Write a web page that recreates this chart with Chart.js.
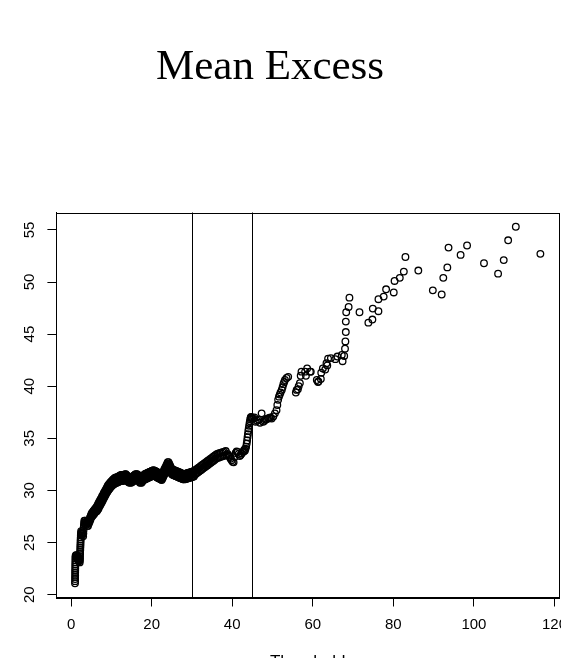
<!DOCTYPE html>
<html>
<head>
<meta charset="utf-8">
<script src="https://cdn.jsdelivr.net/npm/chart.js@4/dist/chart.umd.min.js"></script>
<style>
  html, body { margin: 0; padding: 0; background: #fff; overflow: hidden; }
  #wrap { position: absolute; left: 0; top: 0; width: 600px; height: 690px; }
</style>
</head>
<body>
<div id="wrap"><canvas id="me" width="600" height="690"></canvas></div>
<script>
// Mean excess e(u) against threshold u
const thresholds = [
  0.98, 1.0, 1.0, 1.01, 1.02, 1.02, 1.03, 1.04, 1.05, 1.06, 1.07, 1.08, 1.09, 1.1,
  1.2, 1.3, 1.4, 1.5, 1.6, 1.7, 1.8, 1.9, 2.0, 2.05, 2.1,
  2.15, 2.18, 2.2, 2.22, 2.24, 2.26, 2.28, 2.3, 2.32, 2.34, 2.36, 2.38, 2.4, 2.42, 2.45,
  2.5, 2.6, 2.7, 2.8, 2.9, 3.0,
  3.05, 3.1, 3.15, 3.2, 3.25, 3.3,
  3.4, 3.5, 3.6, 3.7, 3.8, 3.9, 4.0, 4.1, 4.2,
  4.3, 4.4, 4.5, 4.6, 4.7, 4.8, 4.9, 5.0,
  5.1, 5.2, 5.3, 5.4, 5.5, 5.6, 5.7, 5.8, 5.9, 6.0, 6.1, 6.2, 6.3,
  6.4, 6.5, 6.6, 6.7, 6.8, 6.9, 7.0, 7.1, 7.2, 7.3, 7.4, 7.5, 7.6, 7.7, 7.8, 7.9, 8.0,
  8.1, 8.2, 8.3, 8.4, 8.5, 8.6, 8.7, 8.8, 8.9, 9.0, 9.1, 9.2, 9.3, 9.4, 9.5, 9.6, 9.7,
  9.8, 9.9, 10.0, 10.1, 10.2, 10.3, 10.4, 10.5, 10.6, 10.7, 10.8, 10.9, 11.0, 11.1, 11.2, 11.3, 11.4, 11.5,
  11.6, 11.7, 11.8, 11.9, 12.0, 12.1, 12.2, 12.3, 12.4, 12.5, 12.6, 12.7, 12.8, 12.9, 13.0,
  13.1, 13.2, 13.3, 13.4, 13.5, 13.6, 13.7, 13.8, 13.9, 14.0,
  14.1, 14.2, 14.3, 14.4, 14.5, 14.6, 14.7, 14.8, 14.9, 15.0,
  15.1, 15.2, 15.3, 15.4, 15.5, 15.6, 15.7, 15.8, 15.9, 16.0,
  16.1, 16.2, 16.3, 16.4, 16.5, 16.6, 16.7, 16.8, 16.9, 17.0,
  17.1, 17.2, 17.3, 17.4, 17.5, 17.6, 17.7, 17.8, 17.9, 18.0,
  18.1, 18.2, 18.3, 18.4, 18.5, 18.6, 18.7, 18.8, 18.9, 19.0,
  19.1, 19.2, 19.3, 19.4, 19.5, 19.6, 19.7, 19.8, 19.9, 20.0,
  20.1, 20.2, 20.3, 20.4, 20.5, 20.6, 20.7, 20.8, 20.9, 21.0,
  21.1, 21.2, 21.3, 21.4, 21.5, 21.6, 21.7, 21.8, 21.9, 22.0,
  22.1, 22.2, 22.3, 22.4, 22.5, 22.6, 22.7, 22.8, 22.9, 23.0,
  23.1, 23.2, 23.3, 23.4, 23.5, 23.6, 23.7, 23.8, 23.9, 24.0,
  24.1, 24.2, 24.3, 24.4, 24.5, 24.6, 24.7, 24.8, 24.9, 25.0,
  25.1, 25.2, 25.3, 25.4, 25.5, 25.6, 25.7, 25.8, 25.9, 26.0,
  26.1, 26.2, 26.3, 26.4, 26.5, 26.6, 26.7, 26.8, 26.9, 27.0,
  27.1, 27.2, 27.3, 27.4, 27.5, 27.6, 27.7, 27.8, 27.9, 28.0,
  28.1, 28.2, 28.3, 28.4, 28.5, 28.6, 28.7, 28.8, 28.9, 29.0,
  29.1, 29.2, 29.3, 29.4, 29.5, 29.6, 29.7, 29.8, 29.9, 30.0,
  30.1, 30.2, 30.3, 30.4, 30.5,
  30.65, 30.8, 30.95, 31.1, 31.25, 31.4, 31.55, 31.7, 31.85, 32.0,
  32.15, 32.3, 32.45, 32.6, 32.75, 32.9, 33.05, 33.2, 33.35, 33.5,
  33.65, 33.8, 33.95, 34.1, 34.25, 34.4, 34.55, 34.7, 34.85, 35.0,
  35.15, 35.3, 35.45, 35.6, 35.75, 35.9, 36.05, 36.2,
  36.4, 36.6, 36.8, 37.0, 37.2, 37.4, 37.6, 37.8, 38.0, 38.2, 38.4, 38.6,
  38.85, 39.1, 39.35, 39.6, 39.85, 40.1, 40.35, 40.6, 40.85, 41.1,
  41.35, 41.6, 41.85, 42.1, 42.35, 42.6, 42.85,
  43.0, 43.15, 43.3, 43.45, 43.6, 43.7, 43.8, 43.9, 44.0, 44.1, 44.2, 44.3, 44.4, 44.5, 44.6, 44.7, 44.8, 44.9,
  45.2, 45.5, 45.8, 46.2, 46.5, 46.9, 47.3, 47.7, 48.0, 48.3, 48.6, 48.9, 49.2, 49.5, 49.8,
  50.2, 50.6, 51.0, 51.2, 51.4, 51.6, 51.8, 52.0, 52.3, 52.5, 52.7, 52.9, 53.1, 53.5, 53.9,
  55.8, 56.0, 56.3, 56.5, 56.8, 57.0, 57.2, 58.1, 58.3, 58.6,
  59.3, 59.5, 61.0, 61.3, 61.4, 62.0, 62.1, 62.5, 63.1, 63.4,
  63.6, 63.8, 64.5, 65.6, 66.1, 67.2, 67.4,
  67.8, 68.0, 68.1, 68.2, 68.2, 68.3, 68.9, 69.1, 71.6, 73.8,
  74.8, 74.9, 76.3, 76.3, 77.6, 78.2, 80.1, 80.3, 81.6, 82.6,
  83.0, 86.2, 89.8, 92.0, 92.4, 93.4, 93.7, 96.7, 98.3, 102.5, 106.0, 107.4, 108.5, 110.4, 116.5,
  // points lying between the upper and lower edges of the dense band
  4.35, 4.55, 4.75, 4.95,
  5.15, 5.35, 5.55, 5.75, 5.95, 6.15, 6.35,
  6.55, 6.75, 6.95, 7.15, 7.35, 7.55, 7.75, 7.95,
  8.15, 8.35, 8.55, 8.75, 8.95, 9.15, 9.35, 9.55,
  9.75, 9.95, 10.15, 10.35, 10.55, 10.75, 10.95, 11.15, 11.35, 11.55,
  11.75, 11.95, 12.15, 12.35, 12.55, 12.75, 12.95,
  13.15, 13.35, 13.55, 13.75, 13.95, 14.15, 14.35, 14.55, 14.75, 14.95,
  15.15, 15.35, 15.55, 15.75, 15.95, 16.15, 16.35, 16.55, 16.75, 16.95,
  17.15, 17.35, 17.55, 17.75, 17.95,
  18.15, 18.35, 18.55, 18.75, 18.95, 19.15, 19.35, 19.55, 19.75, 19.95,
  20.15, 20.35, 20.55, 20.75, 20.95, 21.15, 21.35, 21.55, 21.75, 21.95,
  22.15, 22.35, 22.55, 22.75, 22.95,
  23.15, 23.35, 23.55, 23.75, 23.95, 24.15, 24.35, 24.55, 24.75, 24.95,
  25.15, 25.35, 25.55, 25.75, 25.95, 26.15, 26.35, 26.55, 26.75, 26.95,
  27.15, 27.35, 27.55, 27.75, 27.95, 28.15, 28.35, 28.55, 28.75, 28.95,
  29.15, 29.35, 29.55, 29.75, 29.95
];
const meanExcess = [
  21.1, 21.3, 21.5, 21.7, 21.9, 22.1, 22.3, 22.5, 22.7, 22.9, 23.1, 23.3, 23.5, 23.7,
  23.8, 23.6, 23.8, 23.5, 23.7, 23.4, 23.6, 23.3, 23.5, 23.2, 23.4,
  23.1, 23.3, 23.5, 23.7, 23.9, 24.1, 24.3, 24.5, 24.7, 24.9, 25.1, 25.3, 25.5, 25.7, 25.9,
  26.1, 25.8, 26.0, 25.7, 25.9, 25.6,
  25.9, 26.2, 26.5, 26.7, 26.9, 27.1,
  26.8, 27.1, 26.8, 27.0, 26.7, 26.9, 26.6, 26.9, 26.6,
  27.0, 26.8, 27.2, 27.0, 27.4, 27.2, 27.6, 27.4,
  27.8, 27.5, 27.9, 27.6, 28.0, 27.7, 28.1, 27.8, 28.2, 27.9, 28.3, 28.0, 28.4,
  28.0, 28.55, 28.15, 28.7, 28.25, 28.85, 28.45, 29.0, 28.55, 29.15, 28.7, 29.25, 28.85, 29.45, 29.0, 29.55, 29.15,
  29.75, 29.3, 29.85, 29.45, 30.0, 29.6, 30.15, 29.75, 30.3, 29.85, 30.45, 30.0, 30.55, 30.1, 30.65, 30.2, 30.75,
  30.3, 30.85, 30.4, 30.9, 30.45, 31.0, 30.55, 31.05, 30.6, 31.15, 30.65, 31.2, 30.7, 31.25, 30.75, 31.25, 30.75, 31.25,
  31.3, 30.8, 31.35, 30.85, 31.4, 30.9, 31.45, 30.95, 31.5, 30.95, 31.5, 30.95, 31.45, 30.9, 31.4,
  30.95, 31.5, 31.05, 31.55, 31.05, 31.55, 31.0, 31.45, 30.95, 31.4,
  30.85, 31.35, 30.8, 31.3, 30.75, 31.25, 30.75, 31.25, 30.75, 31.25,
  30.8, 31.3, 30.85, 31.35, 30.9, 31.45, 30.95, 31.5, 31.0, 31.55,
  31.05, 31.55, 31.05, 31.55, 31.05, 31.5, 30.95, 31.4, 30.85, 31.3,
  30.75, 31.25, 30.75, 31.25, 30.75, 31.3, 30.85, 31.4, 30.95, 31.45,
  31.02, 31.54, 31.06, 31.58, 31.1, 31.61, 31.13, 31.65, 31.17, 31.69,
  31.2, 31.72, 31.24, 31.76, 31.28, 31.79, 31.31, 31.83, 31.35, 31.87,
  31.38, 31.9, 31.42, 31.94, 31.45, 31.93, 31.41, 31.88, 31.36, 31.84,
  31.32, 31.79, 31.27, 31.75, 31.23, 31.7, 31.18, 31.66, 31.14, 31.61,
  31.09, 31.57, 31.05, 31.52, 31.0, 31.58, 31.16, 31.74, 31.32, 31.9,
  31.48, 32.06, 31.64, 32.22, 31.8, 32.38, 31.96, 32.55, 32.13, 32.71,
  32.3, 32.72, 32.13, 32.55, 31.97, 32.38, 31.8, 32.22, 31.63, 32.05,
  31.53, 32.02, 31.5, 31.98, 31.47, 31.95, 31.43, 31.92, 31.4, 31.88,
  31.37, 31.85, 31.33, 31.82, 31.3, 31.78, 31.27, 31.75, 31.23, 31.72,
  31.2, 31.68, 31.17, 31.65, 31.13, 31.62, 31.1, 31.58, 31.07, 31.55,
  31.06, 31.57, 31.09, 31.6, 31.11, 31.62, 31.13, 31.65, 31.16, 31.67,
  31.18, 31.69, 31.21, 31.72, 31.23, 31.74, 31.25, 31.77, 31.28, 31.79,
  31.3, 31.81, 31.33, 31.84, 31.35,
  31.9, 31.54, 31.99, 31.63, 32.07, 31.72, 32.16, 31.8, 32.24, 31.89,
  32.33, 31.97, 32.42, 32.06, 32.5, 32.15, 32.59, 32.23, 32.67, 32.32,
  32.76, 32.4, 32.85, 32.49, 32.93, 32.58, 33.02, 32.66, 33.1, 32.75,
  33.19, 32.83, 33.28, 32.92, 33.36, 33.01, 33.45, 33.1,
  33.53, 33.15, 33.58, 33.2, 33.63, 33.25, 33.68, 33.3, 33.73, 33.35, 33.78, 33.4,
  33.5, 33.35, 33.2, 33.05, 32.9, 32.75, 32.7, 33.2, 33.6, 33.75,
  33.7, 33.5, 33.3, 33.4, 33.55, 33.7, 33.75,
  33.9, 33.8, 34.0, 34.2, 34.5, 34.8, 35.1, 35.4, 35.7, 35.95, 36.2, 36.45, 36.65, 36.85, 37.0, 37.05, 37.0, 36.9,
  36.9, 37.0, 36.6, 36.7, 36.8, 36.5, 37.4, 36.6, 36.7, 36.8, 36.85, 36.9, 36.95, 37.0, 36.9,
  37.1, 37.4, 37.7, 38.2, 38.7, 39.0, 39.2, 39.4, 39.65, 39.9, 40.2, 40.4, 40.6, 40.8, 40.9,
  39.4, 39.65, 39.7, 40.0, 40.3, 41.0, 41.4, 41.4, 41.0, 41.7,
  41.4, 41.4, 40.6, 40.4, 40.45, 40.7, 41.3, 41.7, 41.6, 42.2,
  42.0, 42.65, 42.7, 42.6, 42.85, 43.0, 42.4,
  42.9, 43.6, 44.3, 45.2, 46.2, 47.1, 47.6, 48.5, 47.1, 46.1,
  46.4, 47.45, 47.2, 48.35, 48.6, 49.3, 49.0, 50.1, 50.4, 51.0,
  52.4, 51.1, 49.2, 48.8, 50.4, 51.4, 53.3, 52.6, 53.5, 51.8, 50.8, 52.1, 54.0, 55.3, 52.7,
  // points lying between the upper and lower edges of the dense band
  26.9, 27.1, 27.3, 27.5,
  27.65, 27.75, 27.85, 27.95, 28.05, 28.15, 28.2,
  28.35, 28.5, 28.65, 28.8, 28.9, 29.05, 29.2, 29.35,
  29.55, 29.7, 29.8, 29.95, 30.05, 30.2, 30.3, 30.4,
  30.5, 30.6, 30.65, 30.75, 30.8, 30.85, 30.9, 30.95, 31.0, 31.0,
  31.05, 31.1, 31.15, 31.2, 31.2, 31.2, 31.15,
  31.25, 31.3, 31.3, 31.2, 31.15, 31.1, 31.05, 31.0, 31.0, 31.0,
  31.05, 31.1, 31.2, 31.25, 31.3, 31.3, 31.3, 31.25, 31.15, 31.05,
  31.0, 31.0, 31.05, 31.15, 31.2,
  31.28, 31.32, 31.36, 31.39, 31.43, 31.46, 31.5, 31.54, 31.57, 31.61,
  31.64, 31.68, 31.69, 31.65, 31.6, 31.56, 31.51, 31.47, 31.42, 31.38,
  31.33, 31.29, 31.29, 31.45, 31.61,
  31.77, 31.93, 32.09, 32.25, 32.42, 32.51, 32.34, 32.18, 32.01, 31.84,
  31.77, 31.74, 31.71, 31.67, 31.64, 31.61, 31.57, 31.54, 31.51, 31.47,
  31.44, 31.41, 31.37, 31.34, 31.31, 31.31, 31.34, 31.36, 31.39, 31.41,
  31.43, 31.46, 31.48, 31.51, 31.53
];

// Chosen thresholds marked with vertical rules
const chosenThresholds = [30, 45];

// Axis ticks
const xTicks = [0, 20, 40, 60, 80, 100, 120];
const yTicks = [20, 25, 30, 35, 40, 45, 50, 55];

const titleText = 'Mean Excess';
const xTitle = 'Threshold';

// Axis limits: data range widened by 4% on each side
function paddedRange(values) {
  const lo = Math.min(...values), hi = Math.max(...values);
  const pad = (hi - lo) * 0.04;
  return [lo - pad, hi + pad];
}
const [xMin, xMax] = paddedRange(thresholds);
const [yMin, yMax] = paddedRange(meanExcess);

const points = thresholds.map((u, i) => ({ x: u, y: meanExcess[i] }));

const frameAndRules = {
  id: 'frameAndRules',
  afterDatasetsDraw(chart) {
    const { ctx, chartArea: a, scales } = chart;
    ctx.save();
    ctx.strokeStyle = '#000';
    ctx.lineWidth = 1;
    chosenThresholds.forEach(v => {
      const px = Math.round(scales.x.getPixelForValue(v)) + 0.5;
      ctx.beginPath();
      ctx.moveTo(px, a.top);
      ctx.lineTo(px, a.bottom);
      ctx.stroke();
    });
    ctx.strokeRect(Math.round(a.left) + 0.5, Math.round(a.top) + 0.5,
                   Math.round(a.right - a.left), Math.round(a.bottom - a.top));
    ctx.restore();
  },
  afterDraw(chart) {
    const { ctx } = chart;
    ctx.save();
    ctx.fillStyle = '#000';
    ctx.font = '43px "Liberation Serif", serif';
    ctx.textAlign = 'center';
    ctx.textBaseline = 'alphabetic';
    ctx.fillText(titleText, 270, 79);
    ctx.restore();
  }
};

new Chart(document.getElementById('me'), {
  type: 'scatter',
  data: {
    datasets: [{
      data: points,
      pointStyle: 'circle',
      pointRadius: 3.3,
      pointHoverRadius: 3.3,
      borderWidth: 1.3,
      borderColor: '#000',
      backgroundColor: 'rgba(0,0,0,0)',
      showLine: false
    }]
  },
  options: {
    responsive: false,
    animation: false,
    events: [],
    layout: { padding: { left: 0, right: 41, top: 212.5, bottom: 0 } },
    plugins: { legend: { display: false }, tooltip: { enabled: false }, title: { display: false } },
    scales: {
      x: {
        type: 'linear',
        min: xMin,
        max: xMax,
        afterBuildTicks: s => { s.ticks = xTicks.map(v => ({ value: v })); },
        afterFit: s => { s.height = 690 - 597.5; },
        grid: { drawOnChartArea: false, drawTicks: true, tickLength: 9, color: '#000', lineWidth: 1 },
        border: { display: true, color: '#000', width: 1 },
        ticks: {
          color: '#000',
          padding: 9.5,
          maxRotation: 0,
          autoSkip: false,
          font: { family: '"Liberation Sans", Arial, sans-serif', size: 15 },
          callback: v => String(v)
        },
        title: {
          display: true,
          text: xTitle,
          color: '#000',
          font: { family: '"Liberation Sans", Arial, sans-serif', size: 17 },
          padding: { top: 0, bottom: 17 }
        }
      },
      y: {
        type: 'linear',
        min: yMin,
        max: yMax,
        afterBuildTicks: s => { s.ticks = yTicks.map(v => ({ value: v })); },
        afterFit: s => { s.width = 56.4; },
        grid: { drawOnChartArea: false, drawTicks: true, tickLength: 9, color: '#000', lineWidth: 1 },
        border: { display: true, color: '#000', width: 1 },
        ticks: {
          color: '#000',
          padding: 9,
          minRotation: 90,
          maxRotation: 90,
          crossAlign: 'center',
          autoSkip: false,
          font: { family: '"Liberation Sans", Arial, sans-serif', size: 15 },
          callback: v => String(v)
        }
      }
    }
  },
  plugins: [frameAndRules]
});
</script>
</body>
</html>
